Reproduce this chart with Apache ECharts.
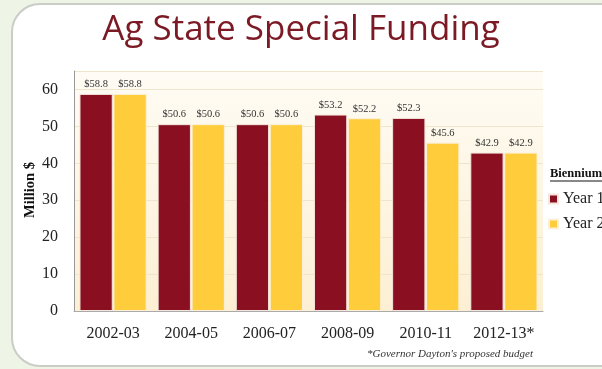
<!DOCTYPE html>
<html><head><meta charset="utf-8">
<script src="https://cdn.jsdelivr.net/npm/echarts@6/dist/echarts.min.js"></script>
<style>html,body{margin:0;padding:0;background:#eef5e6;}#c{width:602px;height:369px;}</style>
</head><body><div id="c"></div>
<script>
const categories = ['2002-03','2004-05','2006-07','2008-09','2010-11','2012-13*'];
const year1 = [58.8, 50.6, 50.6, 53.2, 52.3, 42.9];
const year2 = [58.8, 50.6, 50.6, 52.2, 45.6, 42.9];
const seriesNames = ['Year 1','Year 2'];
const yTicks = {min:0, max:65, interval:10};
const yName = 'Million $';

const chart = echarts.init(document.getElementById('c'), null, {renderer:'canvas'});
const serif = 'Liberation Serif';
const lbl = {show:true, position:'top', distance:4, fontFamily:serif, fontSize:10.5, color:'#333',
  formatter: p => '$' + p.value.toFixed(1)};
chart.setOption({
  backgroundColor:'#eef5e6',
  animation:false,
  graphic:[
    {type:'rect', z:-10, shape:{x:12, y:4, width:640, height:362, r:28},
     style:{fill:'#ffffff', stroke:'#c9cdc6', lineWidth:2}},
    {type:'text', left:'center', top:13, style:{text:'Ag State Special Funding', fontFamily:'Open Sans', fontSize:35, fill:'#7b1a24'}},
    {type:'text', x:30, y:190, rotation:Math.PI/2,
     style:{text:yName, fontFamily:serif, fontWeight:'bold', fontSize:14.5, fill:'#111', align:'center', verticalAlign:'middle'}},
    {type:'text', left:550, top:167, style:{text:'Biennium', fontFamily:serif, fontWeight:'bold', fontSize:12.5, fill:'#111'}},
    {type:'line', shape:{x1:550, y1:181, x2:602, y2:181}, style:{stroke:'#111', lineWidth:1}},
    {type:'text', left:367, top:349, style:{text:"*Governor Dayton's proposed budget", fontFamily:serif, fontStyle:'italic', fontSize:11, fill:'#333'}}
  ],
  grid:{left:74, right:59, top:71, bottom:58,
    show:true, borderWidth:0,
    backgroundColor:new echarts.graphic.LinearGradient(0,0,0,1,[{offset:0,color:'#fffcf5'},{offset:1,color:'#fcefd3'}])},
  legend:{orient:'vertical', left:543, top:191, itemWidth:9, itemHeight:9, itemGap:9, padding:[0,5],
    icon:'rect', data:seriesNames,
    textStyle:{fontFamily:serif, fontSize:16, color:'#222'}},
  xAxis:{type:'category', data:categories,
    axisLine:{lineStyle:{color:'#aaa'}}, axisTick:{show:false},
    axisLabel:{interval:0, fontFamily:serif, fontSize:16, color:'#222', margin:15}},
  yAxis:{type:'value', min:yTicks.min, max:yTicks.max, interval:yTicks.interval,
    axisLine:{show:true, lineStyle:{color:'#999'}}, axisTick:{show:false},
    axisLabel:{fontFamily:serif, fontSize:16, color:'#222', margin:16, showMaxLabel:false},
    splitLine:{lineStyle:{color:'#efe4cc'}}},
  series:[
    {name:seriesNames[0], type:'bar', data:year1, barGap:'2%', barCategoryGap:'14%',
     itemStyle:{color:'#8a1021', borderColor:'#f3e6dc', borderWidth:1}, label:lbl},
    {name:seriesNames[1], type:'bar', data:year2,
     itemStyle:{color:'#ffcd3c', borderColor:'#fbf0d8', borderWidth:1}, label:lbl}
  ]
});
</script></body></html>
